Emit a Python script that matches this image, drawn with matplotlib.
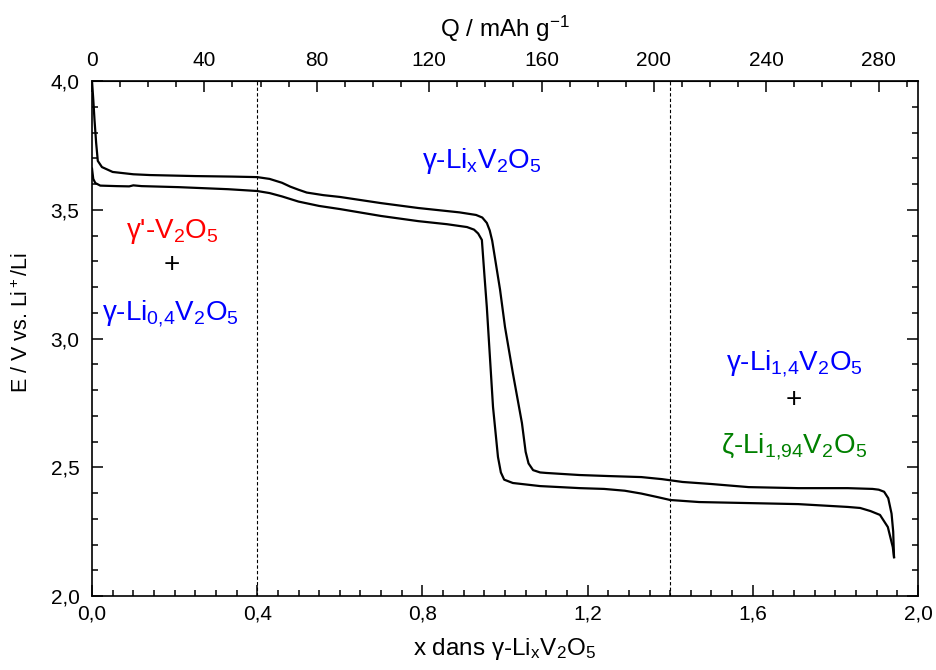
import numpy as np
import matplotlib
matplotlib.use("Agg")
import matplotlib.pyplot as plt
from matplotlib.ticker import MultipleLocator, FixedLocator, FuncFormatter

plt.rcParams['font.family'] = ['Liberation Sans', 'DejaVu Sans']
plt.rcParams['mathtext.fontset'] = 'custom'
plt.rcParams['mathtext.rm'] = 'Liberation Sans'
plt.rcParams['mathtext.it'] = 'Liberation Sans:italic'

# upper curve (x, E)
x_up = [0.000, 0.003, 0.006, 0.010, 0.014, 0.024, 0.050, 0.10, 0.14, 0.25, 0.34, 0.40,
        0.43, 0.46, 0.48, 0.50, 0.52, 0.56, 0.60, 0.70, 0.79, 0.89, 0.93, 0.945, 0.956,
        0.963, 0.969, 0.978, 0.988, 1.000, 1.019, 1.041, 1.050, 1.057, 1.068, 1.085, 1.10,
        1.18, 1.25, 1.33, 1.38, 1.43, 1.50, 1.59, 1.71, 1.83, 1.89, 1.905, 1.918, 1.928,
        1.936, 1.940, 1.942]
E_up = [4.00, 3.93, 3.85, 3.76, 3.69, 3.666, 3.647, 3.638, 3.635, 3.631, 3.629, 3.627,
        3.620, 3.605, 3.590, 3.578, 3.567, 3.557, 3.550, 3.526, 3.507, 3.490, 3.480, 3.470, 3.449,
        3.42, 3.38, 3.29, 3.19, 3.045, 2.866, 2.672, 2.56, 2.515, 2.489, 2.480, 2.478,
        2.470, 2.466, 2.462, 2.454, 2.443, 2.435, 2.423, 2.419, 2.419, 2.416, 2.413, 2.405, 2.38,
        2.32, 2.25, 2.151]

# lower curve (x, E)
x_low = [0.000, 0.003, 0.008, 0.02, 0.06, 0.09, 0.10, 0.12, 0.21, 0.33, 0.40, 0.43, 0.46,
         0.50, 0.55, 0.60, 0.70, 0.79, 0.86, 0.908, 0.925, 0.935, 0.944, 0.950, 0.956, 0.971,
         0.983, 0.990, 0.998, 1.019, 1.085, 1.182, 1.24, 1.29, 1.33, 1.37, 1.40, 1.47, 1.59, 1.71,
         1.83, 1.86, 1.885, 1.908, 1.927, 1.939, 1.942]
E_low = [3.66, 3.62, 3.604, 3.594, 3.592, 3.591, 3.595, 3.592, 3.588, 3.580, 3.573, 3.565, 3.552,
         3.532, 3.515, 3.503, 3.476, 3.456, 3.444, 3.433, 3.423, 3.408, 3.383, 3.25, 3.122, 2.734,
         2.540, 2.48, 2.452, 2.439, 2.427, 2.419, 2.416, 2.409, 2.398, 2.384, 2.373, 2.365, 2.361, 2.357,
         2.346, 2.342, 2.33, 2.315, 2.268, 2.19, 2.151]

phase_limits = [0.4, 1.4]
Q_per_x = 147.0
Q_ticks = [0, 40, 80, 120, 160, 200, 240, 280]

comma = FuncFormatter(lambda v, p: f"{v:.1f}".replace('.', ','))

fig = plt.figure(figsize=(9.37, 6.70), dpi=100)
ax = fig.add_axes([0.0982, 0.1104, 0.8815, 0.7686])

ax.plot(x_up, E_up, color='black', lw=1.6)
ax.plot(x_low, E_low, color='black', lw=1.6)
for xv in phase_limits:
    ax.axvline(xv, color='black', lw=0.8, ls=(0, (3, 2)))

ax.set_xlim(0, 2.0)
ax.set_ylim(2.0, 4.0)
ax.xaxis.set_major_locator(MultipleLocator(0.4))
ax.xaxis.set_minor_locator(MultipleLocator(0.05))
ax.yaxis.set_major_locator(MultipleLocator(0.5))
ax.yaxis.set_minor_locator(MultipleLocator(0.1))
ax.xaxis.set_major_formatter(comma)
ax.yaxis.set_major_formatter(comma)
ax.tick_params(which='both', direction='in', top=False, right=True, labelsize=15, width=1.1)
ax.tick_params(axis='x', which='major', length=8, pad=6)
ax.tick_params(axis='y', which='major', length=8, pad=9)
ax.tick_params(which='minor', length=4)
for s in ax.spines.values():
    s.set_linewidth(1.2)

ax.set_xlabel(r'x dans γ-Li$\mathregular{_x}$V$\mathregular{_2}$O$\mathregular{_5}$', fontsize=17.5, labelpad=9)
ax.set_ylabel(r'E / V vs. Li$\mathregular{^+}$/Li', fontsize=15.5)
ax.yaxis.set_label_coords(-0.071, 0.53)

top = ax.secondary_xaxis('top', functions=(lambda x: x * Q_per_x, lambda q: q / Q_per_x))
top.xaxis.set_major_locator(FixedLocator(Q_ticks))
top.xaxis.set_minor_locator(FixedLocator(np.arange(0, 291, 10)))
top.tick_params(which='both', direction='in', labelsize=15, width=1.1)
top.tick_params(which='major', length=8, pad=8)
top.tick_params(which='minor', length=4)
top.set_xlabel(r'Q / mAh g$\mathregular{^{-1}}$', fontsize=17.5, labelpad=10)

fs = 20
ax.text(0.194, 3.39, r"γ'-V$\mathregular{_2}$O$\mathregular{_5}$", color='red', fontsize=fs, ha='center', va='baseline')
ax.text(0.194, 3.285, '+', color='black', fontsize=fs, ha='center', va='center')
ax.text(0.19, 3.072, r'γ-Li$\mathregular{_{0{,}4}}$V$\mathregular{_2}$O$\mathregular{_5}$', color='blue', fontsize=fs, ha='center', va='baseline')
ax.text(0.945, 3.662, r'γ-Li$\mathregular{_x}$V$\mathregular{_2}$O$\mathregular{_5}$', color='blue', fontsize=fs, ha='center', va='baseline')
ax.text(1.70, 2.878, r'γ-Li$\mathregular{_{1{,}4}}$V$\mathregular{_2}$O$\mathregular{_5}$', color='blue', fontsize=fs, ha='center', va='baseline')
ax.text(1.70, 2.761, '+', color='black', fontsize=fs, ha='center', va='center')
ax.text(1.70, 2.555, r'ζ-Li$\mathregular{_{1{,}94}}$V$\mathregular{_2}$O$\mathregular{_5}$', color='green', fontsize=fs, ha='center', va='baseline')

fig.savefig('out.png', dpi=100)
